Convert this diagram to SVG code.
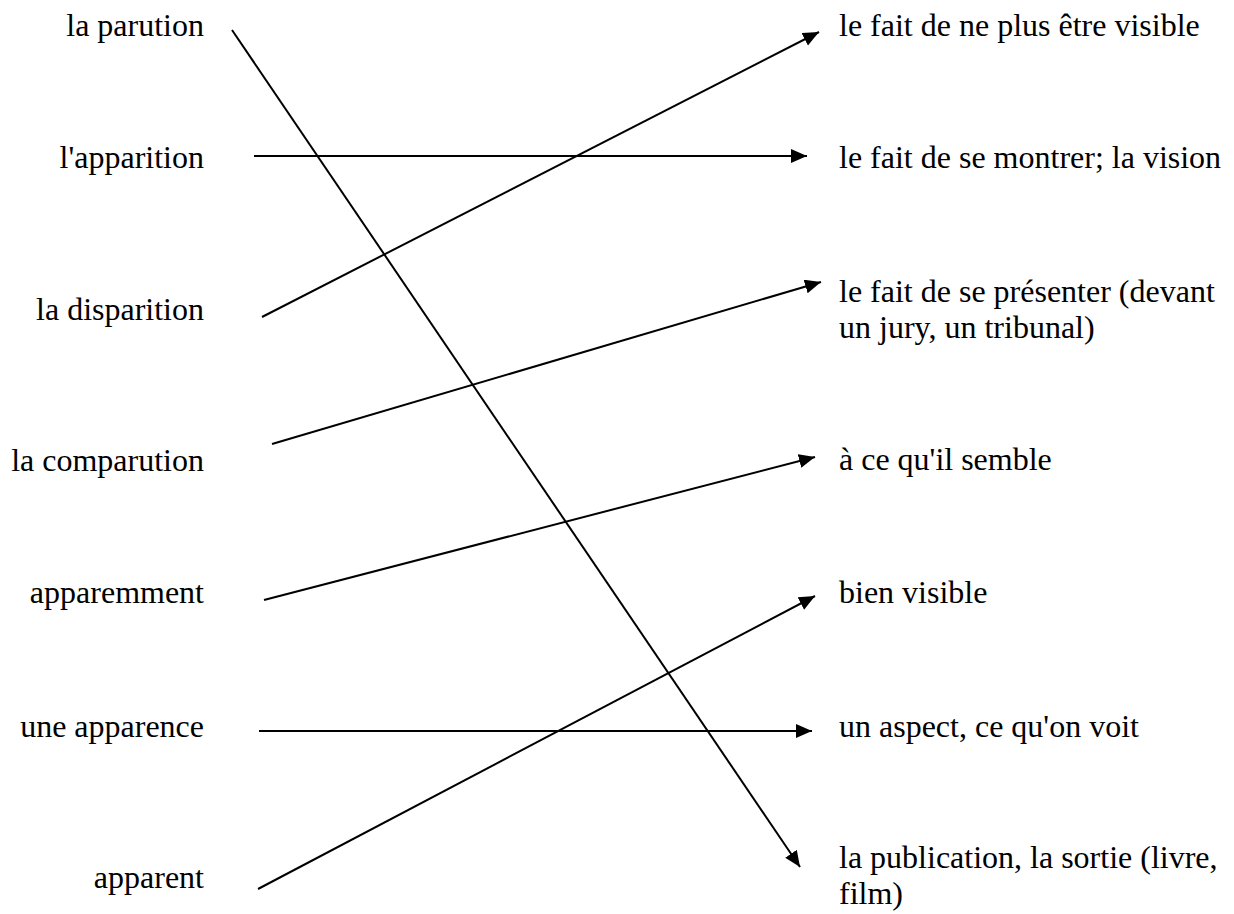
<svg xmlns="http://www.w3.org/2000/svg" width="1234" height="914" viewBox="0 0 1234 914">
<style>
text { font-family: 'Liberation Serif', 'DejaVu Serif', serif; font-size: 32px; fill: #000; }
.l { text-anchor: end; }
.c line { stroke: #000; stroke-width: 2; fill: none; marker-end: url(#ah); }
</style>
<defs>
<marker id="ah" markerUnits="userSpaceOnUse" markerWidth="17" markerHeight="15" refX="16" refY="7" orient="auto" viewBox="0 0 17 15">
<path d="M0,0 L16,7 L0,14 z" fill="#000"/>
</marker>
</defs>
<rect width="1234" height="914" fill="#fff"/>
<g id="left-1"><text class="l" x="204" y="36" font-family="Liberation Serif, serif">la parution</text></g>
<g id="left-2"><text class="l" x="204" y="168" font-family="Liberation Serif, serif">l'apparition</text></g>
<g id="left-3"><text class="l" x="204" y="320" font-family="Liberation Serif, serif">la disparition</text></g>
<g id="left-4"><text class="l" x="204" y="471" font-family="Liberation Serif, serif">la comparution</text></g>
<g id="left-5"><text class="l" x="204" y="603" font-family="Liberation Serif, serif">apparemment</text></g>
<g id="left-6"><text class="l" x="204" y="737" font-family="Liberation Serif, serif">une apparence</text></g>
<g id="left-7"><text class="l" x="204" y="888" font-family="Liberation Serif, serif">apparent</text></g>
<g id="right-1"><text x="839" y="36" font-family="Liberation Serif, serif">le fait de ne plus être visible</text></g>
<g id="right-2"><text x="839" y="168" font-family="Liberation Serif, serif">le fait de se montrer; la vision</text></g>
<g id="right-3"><text x="839" y="302" font-family="Liberation Serif, serif">le fait de se présenter (devant</text><text x="839" y="338" font-family="Liberation Serif, serif">un jury, un tribunal)</text></g>
<g id="right-4"><text x="839" y="470" font-family="Liberation Serif, serif">à ce qu'il semble</text></g>
<g id="right-5"><text x="839" y="603" font-family="Liberation Serif, serif">bien visible</text></g>
<g id="right-6"><text x="839" y="737" font-family="Liberation Serif, serif">un aspect, ce qu'on voit</text></g>
<g id="right-7"><text x="839" y="868" font-family="Liberation Serif, serif">la publication, la sortie (livre,</text><text x="839" y="904" font-family="Liberation Serif, serif">film)</text></g>
<g id="connectors" class="c">
<line x1="232" y1="30" x2="800" y2="867"/>
<line x1="254" y1="156" x2="807" y2="156"/>
<line x1="262" y1="317" x2="819" y2="32"/>
<line x1="272" y1="444" x2="821" y2="282"/>
<line x1="264" y1="600" x2="815" y2="457"/>
<line x1="259" y1="731" x2="812" y2="731"/>
<line x1="258" y1="889" x2="815" y2="596"/>
</g>
</svg>
